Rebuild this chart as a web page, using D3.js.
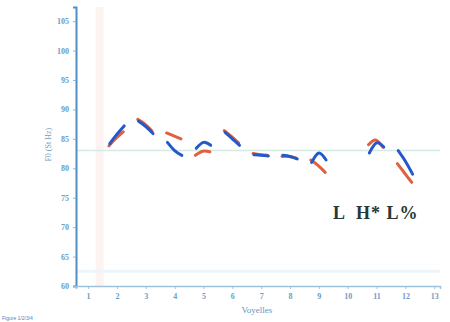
<!DOCTYPE html>
<html>
<head>
<meta charset="utf-8">
<script src="https://cdn.jsdelivr.net/npm/d3@7"></script>
<style>
  body { margin: 0; background: #fff; }
  svg { display: block; }
  .tick text { font-family: "Liberation Serif", serif; font-size: 8px; fill: #6e9cc2; font-weight: bold; }
</style>
</head>
<body>
<svg id="chart"></svg>
<script>
// vowel index on the x axis
const vowels = [1, 2, 3, 4, 5, 6, 7, 8, 9, 10, 11, 12, 13];
const yTicks = [60, 65, 70, 75, 80, 85, 90, 95, 100, 105];

// each contour: [start, middle, end] of the vowel
const contourVowels = [2, 3, 4, 5, 6, 7, 8, 9, 11, 12];
const blueF0 = [
    [84.2, 85.8, 87.2],
    [88.0, 87.1, 85.9],
    [84.4, 83.0, 82.2],
    [83.4, 84.4, 83.9],
    [86.1, 85.0, 83.9],
    [82.3, 82.2, 82.1],
    [82.2, 82.0, 81.6],
    [81.0, 82.6, 81.4],
    [82.6, 84.3, 83.6],
    [83.0, 81.2, 79.0]
];
const orangeF0 = [
    [83.8, 85.1, 86.2],
    [88.3, 87.5, 86.3],
    [86.0, 85.5, 85.0],
    [82.2, 82.9, 82.8],
    [86.4, 85.4, 84.3],
    [82.5, 82.3, 82.2],
    [82.0, 82.0, 81.7],
    [81.4, 80.5, 79.3],
    [84.0, 84.8, 83.6],
    [80.8, 79.2, 77.6]
];
const offsets = [-0.25, 0, 0.25];
const refLine = 83;

const width = 450, height = 322;
const svg = d3.select('#chart').attr('width', width).attr('height', height);

const x = d3.scaleLinear().domain([0.58, 13.2]).range([76, 440]);
const y = d3.scaleLinear().domain([60, 107.4]).range([286, 7]);

// faint background guides
svg.append('line')
    .attr('x1', x(1.4)).attr('x2', x(1.4))
    .attr('y1', y(107.4)).attr('y2', y(60))
    .attr('stroke', '#fdf3f1').attr('stroke-width', 8);
svg.append('line')
    .attr('x1', x(0.6)).attr('x2', x(13.2))
    .attr('y1', y(62.5)).attr('y2', y(62.5))
    .attr('stroke', '#eef5fa').attr('stroke-width', 3);

// reference level
svg.append('line')
    .attr('x1', x(0.58)).attr('x2', x(13.2))
    .attr('y1', y(refLine)).attr('y2', y(refLine))
    .attr('stroke', '#d3eae5').attr('stroke-width', 1.5);

// axes
const yAxis = svg.append('g')
    .attr('transform', `translate(${x(0.58)},0)`)
    .call(d3.axisLeft(y).tickValues(yTicks).tickSize(3).tickPadding(4));
yAxis.select('.domain').attr('stroke', '#4f8fc4').attr('stroke-width', 2);
yAxis.selectAll('.tick line').attr('stroke', '#8fb6d6');

const xAxis = svg.append('g')
    .attr('transform', `translate(0,${y(60)})`)
    .call(d3.axisBottom(x).tickValues(vowels).tickFormat(d3.format('d')).tickSize(3).tickPadding(4));
xAxis.select('.domain').attr('stroke', '#9cc3de').attr('stroke-width', 1.5);
xAxis.selectAll('.tick line').attr('stroke', '#9cc3de');

// contours
const line = d3.line()
    .x(d => x(d[0]))
    .y(d => y(d[1]))
    .curve(d3.curveCardinal);

function drawSeries(values, color, dx) {
    svg.append('g')
        .selectAll('path')
        .data(values.map((v, i) => v.map((f, j) => [contourVowels[i] + offsets[j] + dx, f])))
        .enter()
        .append('path')
        .attr('d', line)
        .attr('fill', 'none')
        .attr('stroke', color)
        .attr('stroke-width', 3)
        .attr('stroke-linecap', 'round');
}
drawSeries(orangeF0, '#e0613f', -0.03);
drawSeries(blueF0, '#2559c9', 0);

// labels
svg.append('text')
    .attr('transform', `translate(51,${y(84)}) rotate(-90)`)
    .attr('text-anchor', 'middle')
    .style('font-family', 'Liberation Serif, serif')
    .style('font-size', '8px')
    .style('fill', '#6e9cc2')
    .text('F0 (St Hz)');

svg.append('text')
    .attr('x', x(6.85)).attr('y', 313)
    .attr('text-anchor', 'middle')
    .style('font-family', 'Liberation Serif, serif')
    .style('font-size', '9px')
    .style('fill', '#5f95c3')
    .text('Voyelles');

svg.append('text')
    .attr('x', 2).attr('y', 320)
    .style('font-family', 'Liberation Sans, sans-serif')
    .style('font-size', '5px')
    .style('fill', '#4f86b8')
    .text('Figure 1/2/3/4');

svg.append('text')
    .attr('x', 333).attr('y', 219)
    .style('font-family', 'Liberation Serif, serif')
    .style('font-size', '18px')
    .style('font-weight', 'bold')
    .style('letter-spacing', '1px')
    .style('fill', '#263838')
    .attr('xml:space', 'preserve')
    .text('L  H* L%');
</script>
</body>
</html>
